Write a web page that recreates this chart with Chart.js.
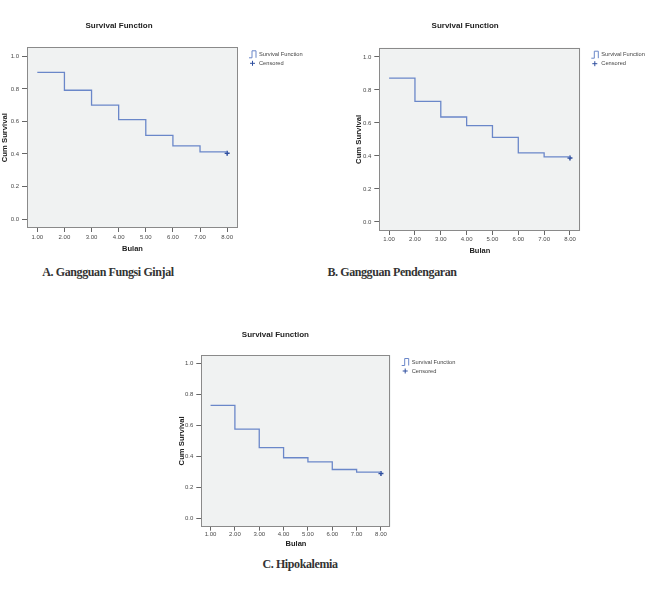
<!DOCTYPE html>
<html>
<head>
<meta charset="utf-8">
<script src="https://cdn.jsdelivr.net/npm/chart.js@4.4.1/dist/chart.umd.min.js"></script>
<style>
  body { margin: 0; background: #fff; }
  #page { position: relative; width: 654px; height: 592px; overflow: hidden; }
  .panel { position: absolute; }
  .caption {
    position: absolute; width: 260px; text-align: center;
    font-family: "Liberation Serif", "DejaVu Serif", serif; font-weight: bold;
    font-size: 12px; letter-spacing: -0.4px; line-height: 14px; color: #333;
  }
</style>
</head>
<body>
<div id="page">
  <div class="panel" style="left:0px;top:0px;"><canvas id="chartA" width="313" height="258"></canvas></div>
  <div class="panel" style="left:350px;top:0px;"><canvas id="chartB" width="305" height="258"></canvas></div>
  <div class="panel" style="left:160px;top:320px;"><canvas id="chartC" width="316" height="236"></canvas></div>
  <div class="caption" style="left:-22px;top:265px;">A. Gangguan Fungsi Ginjal</div>
  <div class="caption" style="left:262px;top:265px;">B. Gangguan Pendengaran</div>
  <div class="caption" style="left:170px;top:557px;">C. Hipokalemia</div>
</div>
<script>
// Data (Kaplan-Meier, bulan 1-8)
const bulan = [1, 2, 3, 4, 5, 6, 7, 8];
const survivalGinjal = [0.902, 0.792, 0.700, 0.611, 0.515, 0.450, 0.413, 0.413];
const survivalPendengaran = [0.871, 0.731, 0.636, 0.584, 0.513, 0.418, 0.394, 0.394];
const survivalHipokalemia = [0.730, 0.576, 0.457, 0.391, 0.365, 0.315, 0.298, 0.298];
const censoredBulan = 8;
const censoredGinjal = 0.405;
const censoredPendengaran = 0.388;
const censoredHipokalemia = 0.290;
const xTicks = [1, 2, 3, 4, 5, 6, 7, 8];
const yTicks = [0, 0.2, 0.4, 0.6, 0.8, 1.0];

const lineColor = '#6a87c9';
const censorColor = '#2f4f9f';
const fontFamily = '"Liberation Sans", Arial, sans-serif';

// Latar abu-abu dan bingkai area plot
const plotFrame = {
    id: 'plotFrame',
    beforeDatasetsDraw(chart) {
        const { ctx, chartArea: a } = chart;
        ctx.save();
        ctx.fillStyle = '#f0f2f2';
        ctx.fillRect(a.left, a.top, a.width, a.height);
        ctx.strokeStyle = '#8a8a8a';
        ctx.lineWidth = 1;
        ctx.strokeRect(Math.round(a.left) + 0.5, Math.round(a.top) + 0.5,
            Math.round(a.width) - 1, Math.round(a.height) - 1);
        ctx.restore();
    }
};

// Legenda kecil di kanan atas (ikon tangga + tanda silang)
const sideLegend = {
    id: 'sideLegend',
    afterDraw(chart) {
        const { ctx, chartArea: a } = chart;
        const x = a.right + 11;
        const y = a.top + 7;
        ctx.save();
        ctx.strokeStyle = lineColor;
        ctx.lineWidth = 1;
        ctx.beginPath();
        ctx.moveTo(x, y + 3.5);
        ctx.lineTo(x + 3, y + 3.5);
        ctx.lineTo(x + 3, y - 3.5);
        ctx.lineTo(x + 7, y - 3.5);
        ctx.lineTo(x + 7, y + 3.5);
        ctx.stroke();
        ctx.strokeStyle = censorColor;
        ctx.beginPath();
        ctx.moveTo(x + 1, y + 9);
        ctx.lineTo(x + 6, y + 9);
        ctx.moveTo(x + 3.5, y + 6.5);
        ctx.lineTo(x + 3.5, y + 11.5);
        ctx.stroke();
        ctx.fillStyle = '#444';
        ctx.font = '5.7px ' + fontFamily;
        ctx.textBaseline = 'middle';
        ctx.fillText(chart.data.datasets[0].label, x + 10, y);
        ctx.fillText(chart.data.datasets[1].label, x + 10, y + 9);
        ctx.restore();
    }
};

function drawSurvival(canvasId, values, censoredValue, box) {
    const canvas = document.getElementById(canvasId);
    const W = canvas.width, H = canvas.height;

    return new Chart(canvas, {
        type: 'line',
        data: {
            datasets: [
                {
                    label: 'Survival Function',
                    data: bulan.map((b, i) => ({ x: b, y: values[i] })),
                    stepped: 'before',
                    borderColor: lineColor,
                    borderWidth: 1.3,
                    pointRadius: 0,
                    fill: false
                },
                {
                    label: 'Censored',
                    data: [{ x: censoredBulan, y: censoredValue }],
                    showLine: false,
                    pointStyle: 'cross',
                    pointRadius: 2.5,
                    borderColor: censorColor,
                    borderWidth: 1.5
                }
            ]
        },
        options: {
            responsive: false,
            animation: false,
            events: [],
            layout: { padding: { left: 0, top: 0, bottom: 0, right: W - box.right } },
            plugins: {
                legend: { display: false },
                tooltip: { enabled: false },
                title: {
                    display: true,
                    text: 'Survival Function',
                    color: '#222',
                    font: { family: fontFamily, size: 8, weight: 'bold', lineHeight: 1.2 },
                    padding: { top: box.titleTop, bottom: box.top - box.titleTop - 9.6 }
                }
            },
            scales: {
                x: {
                    type: 'linear',
                    min: 0.62,
                    max: 8.4,
                    afterBuildTicks: s => { s.ticks = xTicks.map(v => ({ value: v })); },
                    afterFit: s => { s.height = H - box.bottom; },
                    grid: { drawOnChartArea: false, drawTicks: true, tickLength: 4, color: '#666' },
                    border: { display: false },
                    ticks: {
                        padding: box.xPad,
                        color: '#4a4a4a',
                        maxRotation: 0,
                        font: { family: fontFamily, size: 6 },
                        callback: v => v.toFixed(2)
                    },
                    title: {
                        display: true,
                        text: 'Bulan',
                        color: '#222',
                        font: { family: fontFamily, size: 7.5, weight: 'bold' },
                        padding: { top: 0, bottom: box.xTitlePad }
                    }
                },
                y: {
                    min: -0.055,
                    max: 1.056,
                    afterBuildTicks: s => { s.ticks = yTicks.map(v => ({ value: v })); },
                    afterFit: s => { s.width = box.left; },
                    grid: { drawOnChartArea: false, drawTicks: true, tickLength: 5, color: '#666' },
                    border: { display: false },
                    ticks: {
                        padding: 3,
                        color: '#4a4a4a',
                        font: { family: fontFamily, size: 6 },
                        callback: v => v.toFixed(1)
                    },
                    title: {
                        display: true,
                        text: 'Cum Survival',
                        color: '#222',
                        font: { family: fontFamily, size: 7.7, weight: 'bold' },
                        padding: { top: box.yTitlePad, bottom: 0 }
                    }
                }
            }
        },
        plugins: [plotFrame, sideLegend]
    });
}

// Posisi area plot relatif terhadap kanvas masing-masing
drawSurvival('chartA', survivalGinjal, censoredGinjal,
    { left: 27, right: 238, top: 47.3, bottom: 228, titleTop: 20.9, xPad: 2, xTitlePad: 4.8, yTitlePad: 0.7 });
drawSurvival('chartB', survivalPendengaran, censoredPendengaran,
    { left: 29.3, right: 230.3, top: 47.7, bottom: 231, titleTop: 20.5, xPad: 1, xTitlePad: 2.8, yTitlePad: 4.7 });
drawSurvival('chartC', survivalHipokalemia, censoredHipokalemia,
    { left: 41.3, right: 230.7, top: 35, bottom: 206.7, titleTop: 9.9, xPad: 0, xTitlePad: 7.2, yTitlePad: 17.1 });
</script>
</body>
</html>
